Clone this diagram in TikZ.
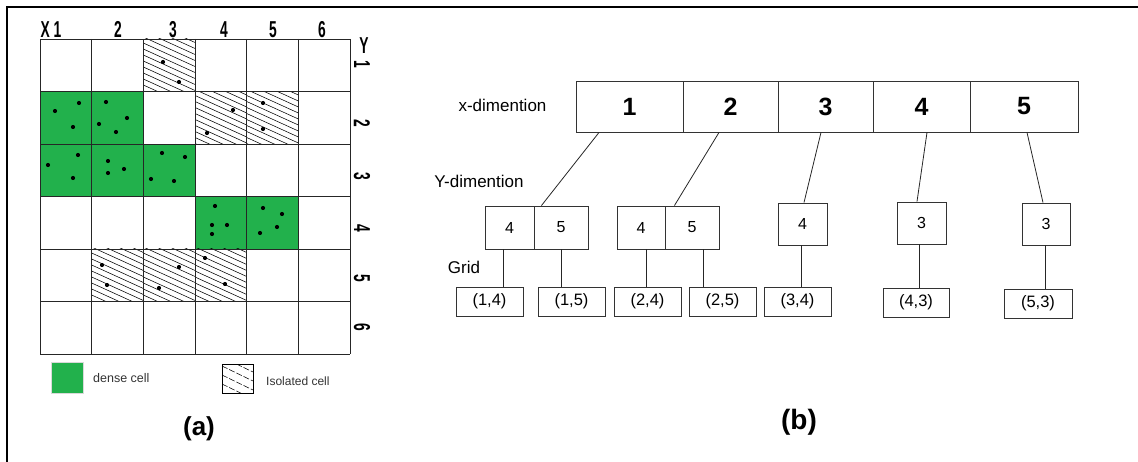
\documentclass[tikz,border=0pt]{standalone}
\usepackage{fontspec}
\usepackage{graphicx}
\setmainfont{Liberation Sans}
\usetikzlibrary{calc}
\definecolor{densegreen}{HTML}{22B14C}
\newcommand\condensed[1]{\scalebox{0.6}[1]{#1}}

\begin{document}
\begin{tikzpicture}[x=1pt,y=-1pt,
  gridline/.style={draw=black!85, line width=0.9pt},
  hatch/.style={draw=black, line width=0.55pt},
  dot/.style={fill=black},
  axlab/.style={font=\fontsize{23}{23}\selectfont\bfseries, inner sep=0pt},
  cell/.style={draw=black!80, line width=0.9pt, inner sep=0pt},
  xcell/.style={cell, minimum height=51pt, font=\fontsize{25}{25}\selectfont\bfseries},
  ycell/.style={cell, font=\fontsize{16}{16}\selectfont},
  gcell/.style={cell, minimum height=29pt, font=\fontsize{16.5}{16.5}\selectfont},
  lab/.style={font=\fontsize{17}{17}\selectfont, inner sep=0pt},
  link/.style={draw=black!85, line width=0.8pt},
  caption/.style={font=\bfseries, inner sep=0pt}]
\useasboundingbox (0,0) rectangle (1138,462);

% outer frame (top and left edges)
\draw[line width=2pt] (6.5,462) -- (6.5,7) -- (1138,7);

% ---------------- (a) grid of cells ----------------
\def\cw{51.67}
\def\ch{52.5}
% dense cells
\foreach \c/\r in {1/2,2/2,1/3,2/3,3/3,4/4,5/4}
  \fill[densegreen] ({40+(\c-1)*\cw},{39+(\r-1)*\ch}) rectangle ++(\cw,\ch);
% isolated cells
\foreach \c/\r in {3/1,4/2,5/2,2/5,3/5,4/5}{
  \begin{scope}
    \clip ({40+(\c-1)*\cw},{39+(\r-1)*\ch}) rectangle ++(\cw,\ch);
    \foreach \k in {-26,-20,...,58}
      \draw[hatch] ({40+(\c-1)*\cw},{39+(\r-1)*\ch+\k}) -- ++(\cw,23.5);
  \end{scope}
}
% grid lines
\foreach \i in {0,...,6}{
  \draw[gridline] ({40+\i*\cw},39) -- ({40+\i*\cw},354);
  \draw[gridline] (40,{39+\i*\ch}) -- (350,{39+\i*\ch});
}
% data points
\foreach \p in {(163,62),(179,82),
  (55,111),(79,103),(73,127),
  (106,102),(127,118),(99,124),(116,132),
  (233,110),(207,133),(263,103),(263,129),
  (48,165),(78,155),(73,178),
  (108,161),(108,173),(124,169),
  (162,153),(185,157),(151,179),(174,181),
  (215,206),(212,225),(227,225),(212,234),
  (263,208),(282,214),(277,227),(260,233),
  (102,265),(107,285),(179,267),(159,288),(205,258),(225,284)}
  \fill[dot] \p circle (2.1pt);

% axis labels
\node[axlab] (xl) at (51,29.5) {\condensed{X 1}};
\node[axlab] (x2l) at (118,29.5) {\condensed{2}};
\node[axlab] (x3l) at (173,29.5) {\condensed{3}};
\node[axlab] (x4l) at (224,29.5) {\condensed{4}};
\node[axlab] (x5l) at (273,29.5) {\condensed{5}};
\node[axlab] (x6l) at (322,29.5) {\condensed{6}};
\node[axlab] (yl) at (364,46) {\condensed{Y}};
\node[axlab, rotate=-90] (y1l) at (362,64) {\condensed{1}};
\node[axlab, rotate=-90] (y2l) at (362,123) {\condensed{2}};
\node[axlab, rotate=-90] (y3l) at (362,176) {\condensed{3}};
\node[axlab, rotate=-90] (y4l) at (362,228) {\condensed{4}};
\node[axlab, rotate=-90] (y5l) at (362,278) {\condensed{5}};
\node[axlab, rotate=-90] (y6l) at (362,327) {\condensed{6}};

% legend
\draw[draw=black!15, fill=densegreen] (51,362) rectangle (83,393);
\node[anchor=west, inner sep=0pt, font=\fontsize{12.5}{12.5}\selectfont, text=black!80] (ldense) at (93,378) {dense cell};
\begin{scope}
  \clip (222,364) rectangle (253,393);
  \foreach \k in {-16,-7,...,30}
    \draw[hatch, dash pattern=on 6pt off 2pt] (222,{364+\k}) -- ++(31,15);
\end{scope}
\draw[line width=0.9pt] (222,364) rectangle (253,393);
\node[anchor=west, inner sep=0pt, font=\fontsize{12}{12}\selectfont, text=black!80] (liso) at (266,381) {Isolated cell};

\node[caption, font=\fontsize{26}{26}\selectfont\bfseries] (capa) at (199,429) {(a)};

% ---------------- (b) index structure ----------------
\node[lab] (xdim) at (502.5,105) {x-dimention};
\node[lab] (ydim) at (479,181) {Y-dimention};
\node[lab] (gridl) at (464,267) {Grid};

\node[xcell, minimum width=107pt] (x1) at (629.5,106.5) {\raisebox{-3pt}{1}};
\node[xcell, minimum width=95pt]  (x2) at (730.5,106.5) {\raisebox{-3pt}{2}};
\node[xcell, minimum width=95pt]  (x3) at (825.5,106.5) {\raisebox{-3pt}{3}};
\node[xcell, minimum width=97pt]  (x4) at (921.5,106.5) {\raisebox{-3pt}{4}};
\node[xcell, minimum width=108pt] (x5) at (1024,106.5) {\raisebox{-3pt}{5}};

\node[ycell, minimum width=49pt, minimum height=43pt] (ya4) at (509.5,227.5) {4};
\node[ycell, minimum width=54pt, minimum height=43pt] (ya5) at (561,227.5) {5};
\node[ycell, minimum width=48pt, minimum height=43pt] (yb4) at (641,227.5) {4};
\node[ycell, minimum width=54pt, minimum height=43pt] (yb5) at (692,227.5) {5};
\node[ycell, minimum width=49pt, minimum height=42pt] (yc) at (802.5,224) {4};
\node[ycell, minimum width=49pt, minimum height=42pt] (yd) at (921.5,223) {3};
\node[ycell, minimum width=48pt, minimum height=42pt] (ye) at (1046,224) {3};

\node[gcell, minimum width=67pt] (g14) at (489.5,301.5) {(1,4)};
\node[gcell, minimum width=67pt] (g15) at (571.5,301.5) {(1,5)};
\node[gcell, minimum width=67pt] (g24) at (647.5,301.5) {(2,4)};
\node[gcell, minimum width=67pt] (g25) at (722.5,301.5) {(2,5)};
\node[gcell, minimum width=67pt] (g34) at (797.5,301.5) {(3,4)};
\node[gcell, minimum width=66pt] (g43) at (916,302.5) {(4,3)};
\node[gcell, minimum width=68pt] (g53) at (1038,303.5) {(5,3)};

% x-dimension to y-dimension links
\draw[link] ([xshift=-30.5pt]x1.south) -- ([xshift=7pt]ya4.north east);
\draw[link] ([xshift=-11.5pt]x2.south) -- ([xshift=9pt]yb4.north east);
\draw[link] ([xshift=-4.5pt]x3.south) -- ([xshift=1.5pt]yc.north);
\draw[link] ([xshift=5.5pt]x4.south) -- ([xshift=-4.5pt]yd.north);
\draw[link] ([xshift=3pt]x5.south) -- ([xshift=-3pt]ye.north);

% y-dimension to grid links
\draw[link] ([xshift=-6.5pt]ya4.south) -- ([xshift=13.5pt]g14.north);
\draw[link] (ya5.south) -- ([xshift=-10.5pt]g15.north);
\draw[link] ([xshift=5pt]yb4.south) -- ([xshift=-1.5pt]g24.north);
\draw[link] ([xshift=11pt]yb5.south) -- ([xshift=-19.5pt]g25.north);
\draw[link] ([xshift=-1.5pt]yc.south) -- ([xshift=3.5pt]g34.north);
\draw[link] ([xshift=-2.5pt]yd.south) -- ([xshift=3pt]g43.north);
\draw[link] ([xshift=-1pt]ye.south) -- ([xshift=7pt]g53.north);

\node[caption, font=\fontsize{28}{28}\selectfont\bfseries] (capb) at (799,422) {(b)};
\end{tikzpicture}
\end{document}
